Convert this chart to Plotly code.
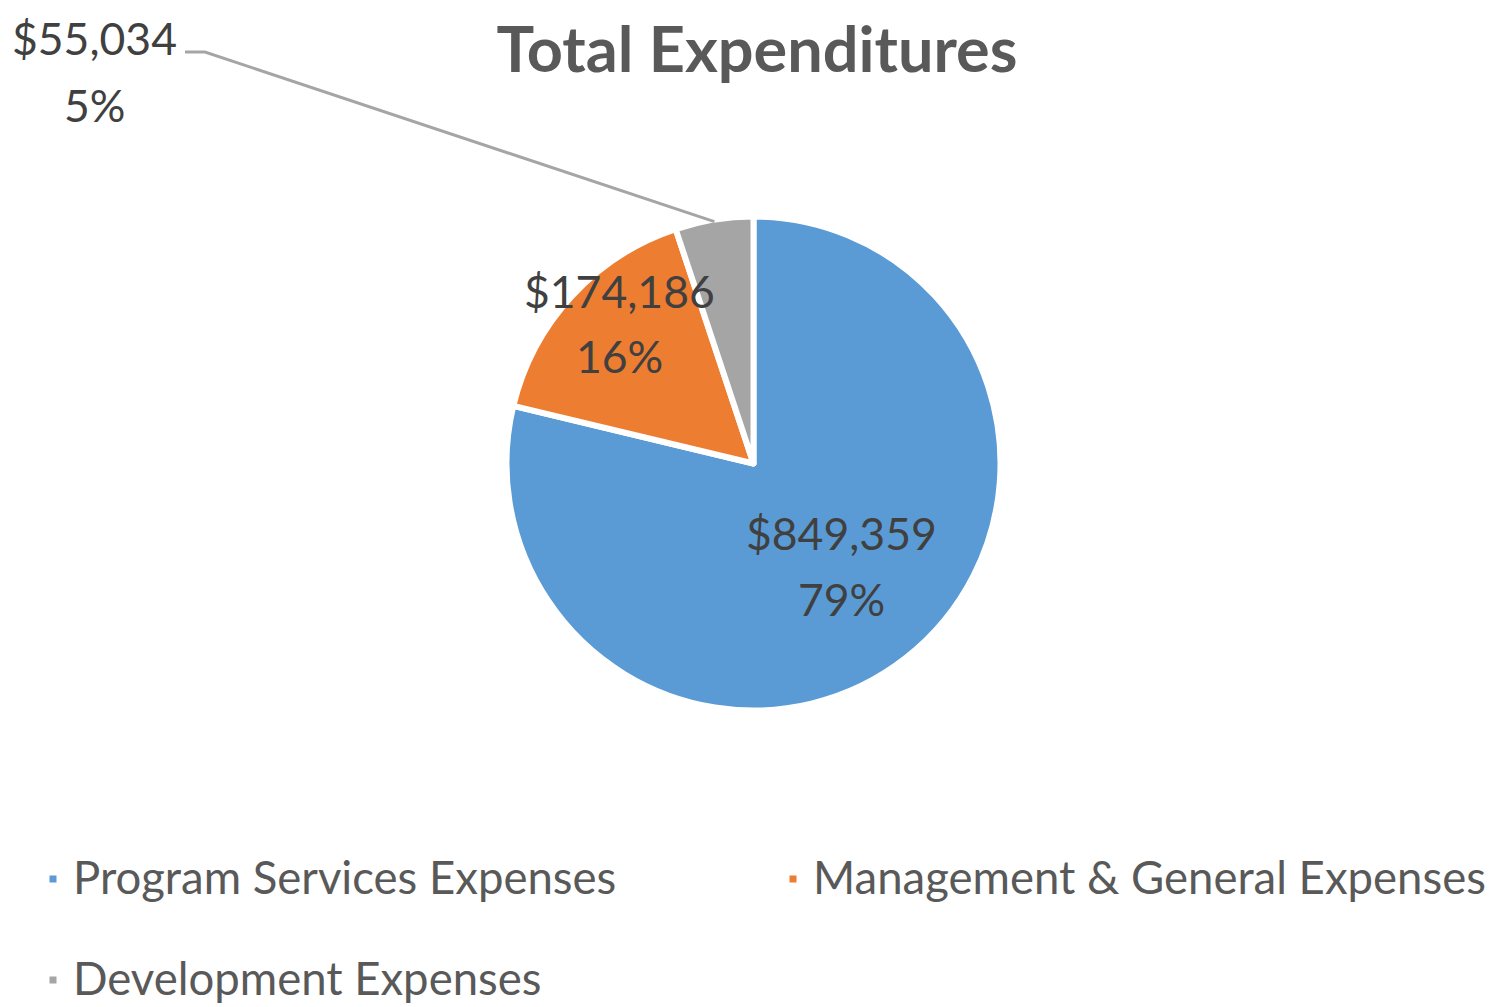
import math
import plotly.graph_objects as go

# ---- data ----
categories = ["Program Services Expenses", "Management & General Expenses", "Development Expenses"]
values = [849359, 174186, 55034]
colors = ["#5B9BD5", "#ED7D31", "#A5A5A5"]

# page geometry: browser body has an 8px default margin
SW, SH = 1505, 1007
OFF = 8
W, H = SW - OFF, SH - OFF
FONT = "Lato"


def fx(px):
    return (px - OFF) / W


def fy(py):
    return 1 - (py - OFF) / H


# pie geometry (screen pixels)
cx, cy, R = 753.5, 463.5, 247

total = sum(values)
pct = [round(v / total * 100) for v in values]
value_text = [f"${v:,}" for v in values]
pct_text = [f"{p}%" for p in pct]
legend_labels = [f'<span style="font-size:45.5px">{c}</span><br> ' for c in categories]

fig = go.Figure()
fig.add_trace(go.Pie(
    labels=legend_labels,
    values=values,
    sort=False,
    direction="clockwise",
    rotation=0,
    marker=dict(colors=colors, line=dict(color="white", width=6)),
    textinfo="none",
    hoverinfo="value+percent",
    domain=dict(x=[fx(cx - R), fx(cx + R)], y=[fy(cy + R), fy(cy - R)]),
))

# data label centres (screen pixels)
label_pos = [(841, 565), (619, 323), (94, 71)]
for vt, pt, (px, py) in zip(value_text, pct_text, label_pos):
    for txt, dy in ((vt, -33), (pt, 33)):
        fig.add_annotation(
            x=fx(px), y=fy(py + dy), xref="paper", yref="paper",
            xanchor="center", yanchor="middle",
            text=txt, showarrow=False, align="center",
            font=dict(family=FONT, size=44.5, color="#404040"),
        )

# leader line for the small slice: from label to the slice mid-angle on the rim
start_frac = (values[0] + values[1]) / total
mid_frac = start_frac + values[2] / total / 2
ang = 2 * math.pi * mid_frac
ex = cx + (R - 2) * math.sin(ang)
ey = cy - (R - 2) * math.cos(ang)
pts = [(185, 52), (205, 52), (ex, ey)]
path = "M " + " L ".join(f"{fx(x)},{fy(y)}" for x, y in pts)
fig.add_shape(type="path", path=path, xref="paper", yref="paper",
              line=dict(color="#A5A5A5", width=3))

fig.update_layout(
    width=W, height=H,
    margin=dict(l=0, r=0, t=0, b=0, autoexpand=False),
    paper_bgcolor="white",
    plot_bgcolor="white",
    title=dict(text="<b>Total Expenditures</b>", x=fx(757), xanchor="center",
               y=fy(50), yanchor="middle",
               font=dict(family=FONT, size=63, color="#595959")),
    showlegend=True,
    legend=dict(
        orientation="h",
        x=0, xanchor="left",
        y=fy(848), yanchor="top",
        indentation=25,
        entrywidth=670, entrywidthmode="pixels",
        valign="top",
        font=dict(family=FONT, size=37.7, color="#595959"),
        itemclick=False, itemdoubleclick=False,
    ),
)

fig.write_html("out.html")
